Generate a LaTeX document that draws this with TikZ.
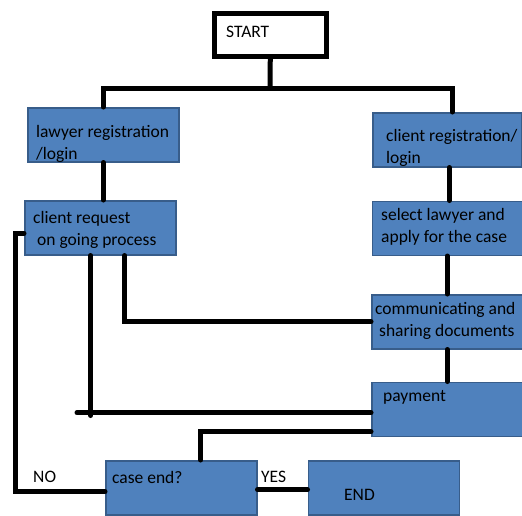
\documentclass[tikz,border=0pt]{standalone}
\usepackage{fontspec}
\setmainfont{Carlito}
\usetikzlibrary{positioning}
\definecolor{boxblue}{HTML}{4F81BD}
\definecolor{boxedge}{HTML}{385D8A}

\begin{document}
\begin{tikzpicture}[x=1pt,y=-1pt,
    box/.style={rectangle,draw=boxedge,fill=boxblue,line width=1.5pt,anchor=north west,
                minimum width=151pt,minimum height=54pt,inner sep=0pt},
    txt/.style={anchor=base west,align=left,inner sep=0pt,font=\fontsize{17.5}{22}\selectfont},
    link/.style={line width=5pt,line cap=round}]

    \useasboundingbox (0,0) rectangle (522,515);

    \node[box,draw=black,fill=white,line width=5pt,minimum width=112pt,minimum height=43pt] (start) at (212,10.5) {};
    \node[box] (lawyer) at (27,107) {};
    \node[box,minimum width=149pt] (client) at (372,112) {};
    \node[box] (request) at (24,200) {};
    \node[box,minimum width=150pt] (select) [below=33pt of client] {};
    \node[box] (comm) [below=38pt of select] {};
    \node[box] (pay) [below=32pt of comm] {};
    \node[box] (caseend) at (105,460) {};
    \node[box] (finish) [right=50pt of caseend] {};

    \coordinate (fork) at (270,88);
    \draw[link] (start) -- (fork);
    \draw[link] (lawyer.north) |- (fork) -| ([xshift=5pt]client.north);
    \draw[link] (lawyer) -- (lawyer |- request.north);
    \draw[link] ([xshift=2pt]client.south) -- ([xshift=2pt]client.south |- select.north);
    \draw[link] (select.south) -- (comm.north);
    \draw[link] (comm.south) -- (pay.north);
    \draw[link] (comm.west) -| ([xshift=24.5pt]request.south);
    \draw[link] ([yshift=-3.5pt]pay.west) -- ++(-294,0);
    \draw[link] ([xshift=-9.5pt]request.south) -- ++(0,160);
    \draw[link] ([yshift=-22.5pt]pay.west) -| ([xshift=19.5pt]caseend.north);
    \draw[link] ([yshift=-2pt]caseend.east) -- ([yshift=-2pt]caseend.east -| finish.west);
    \draw[link] ([yshift=-4pt]caseend.west) -- ++(-90,0) |- ([yshift=-5.5pt]request.west);

    % texts sit on the baseline of their last line
    \node[txt] (starttxt) at (226,37) {START};
    \node[txt] (lawyertxt) at (36,159) {lawyer registration\\/login};
    \node[txt] (clienttxt) at (386,163) {client registration/\\login};
    \node[txt] (requesttxt) at (33,245) {client request\\\hspace*{4pt}on going process};
    \node[txt] (selecttxt) at (381,242) {select lawyer and\\apply for the case};
    \node[txt] (commtxt) at (375,336) {communicating and\\\hspace*{4pt}sharing documents};
    \node[txt] (paytxt) at (383,401) {payment};
    \node[txt] (casetxt) at (112,483) {case end?};
    \node[txt] (notxt) at (33,482) {NO};
    \node[txt] (yestxt) at (261,482) {YES};
    \node[txt] (endtxt) at (344,500) {END};
\end{tikzpicture}
\end{document}
